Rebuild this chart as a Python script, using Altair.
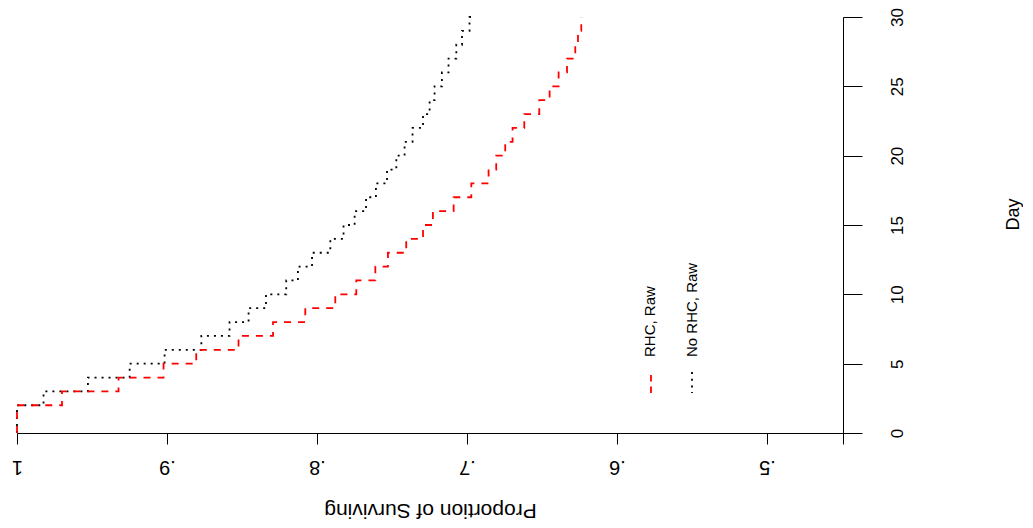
import altair as alt
import pandas as pd

# ---- data (step points: value holds from this day on) ----
days = [0, 2, 3, 4, 5, 6, 7, 8, 9, 10, 11, 12, 13, 14, 15, 16, 17, 18, 19, 20,
        21, 22, 23, 24, 25, 26, 27, 28, 29, 30]
rhc_raw = [1.000, 0.9700, 0.9323, 0.9023, 0.8805, 0.8523, 0.8293, 0.8078, 0.7878, 0.7738,
           0.7611, 0.7527, 0.7405, 0.7293, 0.7227, 0.7089, 0.6971, 0.6856, 0.6805, 0.6745,
           0.6696, 0.6618, 0.6518, 0.6449, 0.6389, 0.6333, 0.6278, 0.6260, 0.6238, 0.6238]
no_rhc_raw = [1.000, 0.9823, 0.9527, 0.9249, 0.9016, 0.8771, 0.8583, 0.8456, 0.8340, 0.8205,
              0.8127, 0.8033, 0.7911, 0.7823, 0.7749, 0.7673, 0.7607, 0.7533, 0.7471, 0.7416,
              0.7363, 0.7293, 0.7249, 0.7216, 0.7167, 0.7123, 0.7071, 0.7033, 0.6983, 0.6940]
series_names = ["RHC, Raw", "No RHC, Raw"]
x_tick_values = [1.0, 0.9, 0.8, 0.7, 0.6, 0.5]
y_tick_values = [0, 5, 10, 15, 20, 25, 30]

X_MIN = 0.4493
W, H = 826, 416
FONT = "Liberation Sans, Arial, Helvetica, sans-serif"

rows = []
for name, vals in ((series_names[0], rhc_raw), (series_names[1], no_rhc_raw)):
    for d, v in zip(days, vals):
        rows.append({"series": name, "day": d, "surv": v})
df = pd.DataFrame(rows)

x_enc = alt.X(
    "surv:Q",
    scale=alt.Scale(domain=[X_MIN, 1.0], reverse=True, nice=False, zero=False),
    axis=alt.Axis(
        values=x_tick_values + [X_MIN],
        labelExpr="datum.value > 0.99 ? '1' : (datum.value < 0.48 ? '' : replace(format(datum.value, '.1f'), '0.', '.'))",
        labelAngle=180, labelAlign="center", labelBaseline="alphabetic",
        labelPadding=16, labelFont=FONT, labelFontSize=20, labelColor="black",
        labelOverlap=False, labelFlush=False,
        tickSize=11, tickColor="black", domainColor="black", grid=False,
        title="Proportion of Surviving", titleAngle=180, titleAlign="center",
        titleBaseline="alphabetic", titleX=413, titleY=70, titleFont=FONT,
        titleFontSize=21, titleFontWeight="normal", titleColor="black",
    ),
)
y_enc = alt.Y(
    "day:Q",
    scale=alt.Scale(domain=[0, 30], nice=False, zero=False),
    axis=alt.Axis(
        orient="right", values=y_tick_values,
        labelAngle=270, labelAlign="center", labelBaseline="top",
        labelPadding=27, labelFont=FONT, labelFontSize=17, labelColor="black",
        labelOverlap=False, labelFlush=False,
        tickSize=19, tickColor="black", domainColor="black", grid=False,
        title="Day", titleAngle=270, titleAlign="center", titleBaseline="top",
        titleX=161, titleY=197, titleFont=FONT, titleFontSize=18,
        titleFontWeight="normal", titleColor="black",
    ),
)

base = alt.Chart(df).encode(x=x_enc, y=y_enc, order=alt.Order("day:Q", sort="ascending"))

no_rhc_line = base.transform_filter(alt.datum.series == series_names[1]).mark_line(
    interpolate="step-before", color="black", strokeWidth=1.8, strokeDash=[2, 5])
rhc_line = base.transform_filter(alt.datum.series == series_names[0]).mark_line(
    interpolate="step-before", color="#FF0000", strokeWidth=1.8, strokeDash=[7, 7])

# ---- legend (rotated, drawn by hand as in the reference) ----
legend_layers = []
legend_specs = [
    (series_names[0], "#FF0000", [6.5, 5], 634, 358, 376, 633),
    (series_names[1], "black", [2, 4.7], 675, 355, 376, 675),
]
for name, col, dash, lx, ly1, ly2, tx in legend_specs:
    ldf = pd.DataFrame({"label": [name]})
    legend_layers.append(
        alt.Chart(ldf).mark_rule(color=col, strokeWidth=1.8, strokeDash=dash).encode(
            x=alt.value(lx), y=alt.value(ly1), y2=alt.value(ly2))
    )
    legend_layers.append(
        alt.Chart(ldf).mark_text(angle=270, align="left", baseline="middle",
                                 font=FONT, fontSize=15, color="black").encode(
            x=alt.value(tx), y=alt.value(340), text="label:N")
    )

chart = alt.layer(no_rhc_line, rhc_line, *legend_layers).properties(
    width=W, height=H,
    padding={"left": 9, "top": 9, "right": 180, "bottom": 92},
    autosize=alt.AutoSizeParams(type="none"),
).configure_view(strokeWidth=0)

chart.save("out.html", embed_options={"renderer": "svg", "actions": False})
